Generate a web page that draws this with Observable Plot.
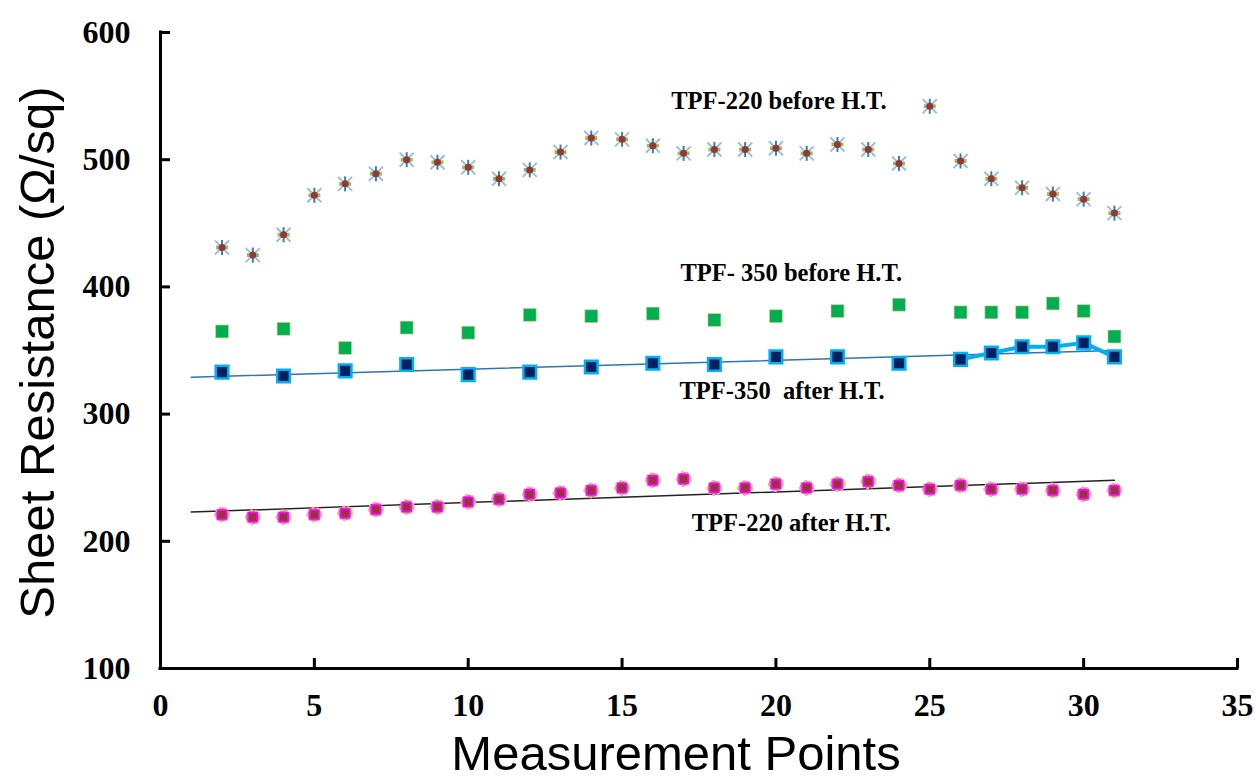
<!DOCTYPE html>
<html>
<head>
<meta charset="utf-8">
<script src="https://cdn.jsdelivr.net/npm/d3@7"></script>
<script src="https://cdn.jsdelivr.net/npm/@observablehq/plot@0.6"></script>
<style>
  body { margin: 0; background: #fff; }
</style>
</head>
<body>
<div id="chart"></div>
<script>
// Measurement points and sheet resistance readings (Ω/sq)
const points220 = [2,3,4,5,6,7,8,9,10,11,12,13,14,15,16,17,18,19,20,21,22,23,24,25,26,27,28,29,30,31];
const before220 = [431,425,441,472,481,489,500,498,494,485,492,506,517,516,511,505,508,508,509,505,512,508,497,542,499,485,478,473,469,458];
const after220  = [221,219,219,221,222,225,227,227,231,233,237,238,240,242,248,249,242,242,245,242,245,247,244,241,244,241,241,240,237,240];

const points350 = [2,4,6,8,10,12,14,16,18,20,22,24,26,27,28,29,30,31];
const before350 = [365,367,352,368,364,378,377,379,374,377,381,386,380,380,380,387,381,361];
const after350  = [333,330,334,339,331,333,337,340,339,345,345,340,343,348,353,353,356,345];

// Linear trend lines (end points)
const trend350X = [1, 31];
const trend350Y = [329, 350];
const trend220X = [1, 31];
const trend220Y = [223, 248];

// First point of the connected segment of the TPF-350 after H.T. series
const linkedFrom350 = 26;

const xTicks = [0,5,10,15,20,25,30,35];
const yTicks = [100,200,300,400,500,600];

const seriesLabels = ["TPF-220 before H.T.", "TPF- 350 before H.T.", "TPF-350  after H.T.", "TPF-220 after H.T."];
const labelX = [20.1, 20.5, 20.2, 20.5];
const labelY = [546, 411, 318, 214];

// Rows for Plot
const rows = (xs, ys) => xs.map((x, i) => ({x, y: ys[i]}));
const b220 = rows(points220, before220);
const a220 = rows(points220, after220);
const b350 = rows(points350, before350);
const a350 = rows(points350, after350);
const t350 = rows(trend350X, trend350Y);
const t220 = rows(trend220X, trend220Y);
const labels = seriesLabels.map((text, i) => ({text, x: labelX[i], y: labelY[i]}));

// Custom marker shapes (r = Math.sqrt(size / π), the dot radius)
const rad = (size) => Math.sqrt(size / Math.PI);
const squareSym = {draw(ctx, size) { const r = rad(size); ctx.rect(-r, -r, 2 * r, 2 * r); }};
const hbarSym = {draw(ctx, size) { const r = rad(size); ctx.rect(-r, -r * 0.32, 2 * r, r * 0.64); }};
const vlineSym = {draw(ctx, size) { const r = rad(size); ctx.moveTo(0, -r); ctx.lineTo(0, r); }};
const crossSym = {draw(ctx, size) { const r = rad(size); ctx.moveTo(-r, -r); ctx.lineTo(r, r); ctx.moveTo(r, -r); ctx.lineTo(-r, r); }};

const serif = "Liberation Serif, Times New Roman, serif";
const sans = "Liberation Sans, Arial, sans-serif";

const chart = Plot.plot({
  width: 1256,
  height: 782,
  marginLeft: 160,
  marginRight: 19,
  marginTop: 32,
  marginBottom: 114,
  style: {background: "white", fontFamily: serif, overflow: "visible", color: "black"},
  x: {domain: [0, 35]},
  y: {domain: [100, 600]},
  marks: [
    // axes: inward ticks, bold serif tick labels
    Plot.axisY(yTicks, {anchor: "left", tickSize: 10, dx: 10, tickPadding: 30, strokeWidth: 3, fontSize: 32, fontWeight: "bold", fontFamily: serif, label: null}),
    Plot.axisX(xTicks, {anchor: "bottom", tickSize: 10, dy: -10, tickPadding: 25, strokeWidth: 3, fontSize: 32, fontWeight: "bold", fontFamily: serif, label: null}),
    Plot.ruleX([0], {strokeWidth: 3, strokeLinecap: "square"}),
    Plot.ruleY([100], {strokeWidth: 3, strokeLinecap: "square"}),

    // axis titles
    Plot.text(["Sheet Resistance (Ω/sq)"], {frameAnchor: "left", textAnchor: "middle", lineAnchor: "middle", dx: -122, dy: 2, rotate: -90, fontSize: 49, fontFamily: sans, fill: "black"}),
    Plot.text(["Measurement Points"], {frameAnchor: "bottom", textAnchor: "middle", lineAnchor: "bottom", dx: -23, dy: 101, fontSize: 49, fontFamily: sans, fill: "black"}),

    // trend lines
    Plot.line(t350, {x: "x", y: "y", stroke: "#2e75b6", strokeWidth: 1.5}),
    Plot.line(t220, {x: "x", y: "y", stroke: "#222", strokeWidth: 1.5}),

    // TPF-220 before H.T. : star markers
    Plot.dot(b220, {x: "x", y: "y", symbol: crossSym, r: 7, stroke: "#9dbde3", strokeWidth: 2, fill: "none"}),
    Plot.dot(b220, {x: "x", y: "y", symbol: hbarSym, r: 6, fill: "#9bbb59", stroke: "none"}),
    Plot.dot(b220, {x: "x", y: "y", symbol: vlineSym, r: 7.5, stroke: "#31859c", strokeWidth: 2, fill: "none"}),
    Plot.dot(b220, {x: "x", y: "y", r: 3.5, fill: "#953735", stroke: "none"}),

    // TPF-350 before H.T. : green squares
    Plot.dot(b350, {x: "x", y: "y", symbol: squareSym, r: 6.5, fill: "#00b050", stroke: "#f4d0a0", strokeWidth: 0.6}),

    // TPF-350 after H.T. : connected tail and navy squares
    Plot.line(a350.filter(d => d.x >= linkedFrom350), {x: "x", y: "y", stroke: "#00b0f0", strokeWidth: 4}),
    Plot.dot(a350, {x: "x", y: "y", symbol: squareSym, r: 6.3, fill: "#002060", stroke: "#00b0f0", strokeWidth: 2.5}),

    // TPF-220 after H.T. : layered circle markers
    Plot.dot(a220, {x: "x", y: "y", r: 7, fill: "#c070d0", stroke: "#f4b183", strokeWidth: 2, strokeDasharray: "3 2"}),
    Plot.dot(a220, {x: "x", y: "y", symbol: squareSym, r: 5.2, fill: "#ff00ff", stroke: "none"}),
    Plot.dot(a220, {x: "x", y: "y", symbol: squareSym, r: 3.6, fill: "#953735", stroke: "none"}),

    // series labels
    Plot.text(labels, {x: "x", y: "y", text: "text", fontSize: 24.5, fontWeight: "bold", fontFamily: serif, fill: "black"})
  ]
});

document.getElementById("chart").append(chart);
</script>
</body>
</html>
